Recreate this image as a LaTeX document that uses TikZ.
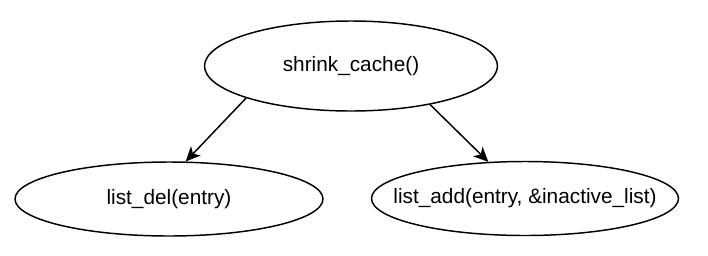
\documentclass[tikz,border=0pt]{standalone}
\usepackage{fontspec}
\setmainfont{Liberation Sans}
\usetikzlibrary{shapes.geometric,arrows.meta}
\begin{document}
\begin{tikzpicture}[x=0.75pt,y=-0.75pt,
  oval/.style={ellipse,draw,line width=1.1pt,inner sep=0pt,font=\fontsize{15.6}{18}\selectfont},
  conn/.style={line width=1.1pt,-{Stealth[length=11pt,width=10pt,inset=3pt]}}]
\useasboundingbox (0,0) rectangle (708,255);
\node[oval,minimum width=293*0.75pt,minimum height=90*0.75pt] (top) at (351,66) {\makebox[0pt]{shrink\_cache()}};
\node[oval,minimum width=308*0.75pt,minimum height=74*0.75pt] (left) at (169,199) {\makebox[0pt]{list\_del(entry)}};
\node[oval,minimum width=307*0.75pt,minimum height=74*0.75pt] (right) at (525,198.5) {\makebox[0pt]{list\_add(entry, \&inactive\_list)}};
\draw[conn] (top.197.5) -- (left.66.4);
\draw[conn] (top.334.4) -- (right.135.4);
\end{tikzpicture}
\end{document}
